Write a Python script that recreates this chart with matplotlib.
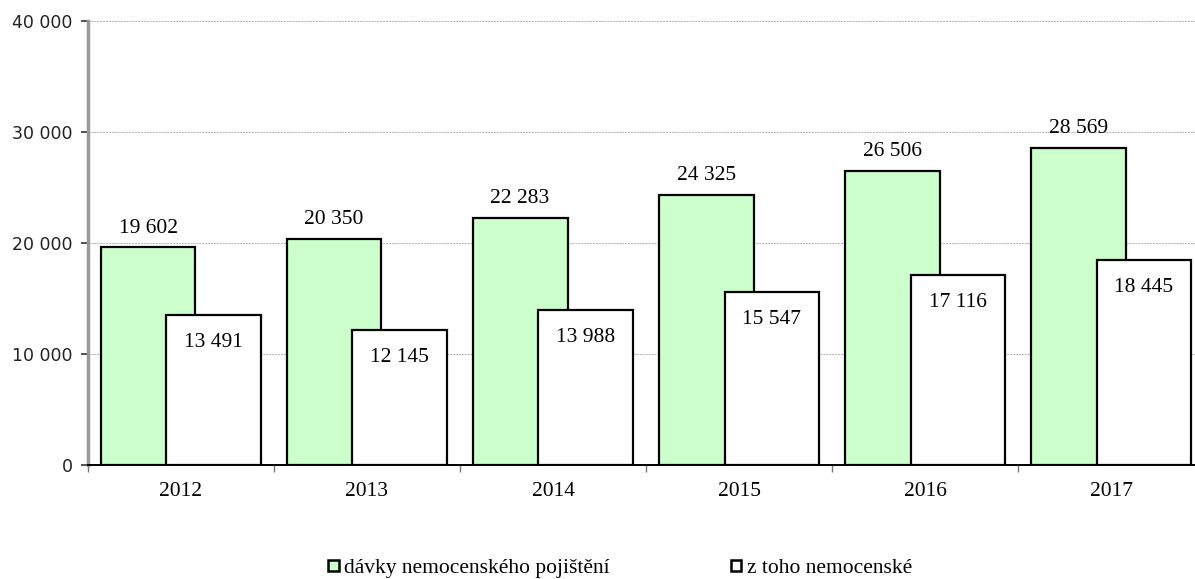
import matplotlib.pyplot as plt
from matplotlib.patches import Patch
import numpy as np

years = ['2012', '2013', '2014', '2015', '2016', '2017']
davky = [19602, 20350, 22283, 24325, 26506, 28569]
nemocenske = [13491, 12145, 13988, 15547, 17116, 18445]
series_names = ['dávky nemocenského pojištění', 'z toho nemocenské']

GREEN = '#ccffcc'
SERIF = 'Liberation Serif'


def fmt(v):
    return f'{v:,}'.replace(',', ' ')


fig = plt.figure(figsize=(11.95, 5.79), dpi=100)
ax = fig.add_axes([0.0736, 0.197, 0.934, 0.767])

x = np.arange(len(years))
width = 0.51
offset = 0.177

bars1 = ax.bar(x - offset, davky, width, color=GREEN, edgecolor='black',
               linewidth=1.6, zorder=2)
bars2 = ax.bar(x + offset, nemocenske, width, color='white', edgecolor='black',
               linewidth=1.6, zorder=3)

# value labels: above the green bars, inside the top of the white ones
for b, v in zip(bars1, davky):
    ax.annotate(fmt(v), (b.get_x() + b.get_width() / 2, v), xytext=(0, 7),
                textcoords='offset points', ha='center', va='bottom',
                fontsize=15.5, family=SERIF, zorder=4)
for b, v in zip(bars2, nemocenske):
    ax.annotate(fmt(v), (b.get_x() + b.get_width() / 2, v), xytext=(0, -13),
                textcoords='offset points', ha='center', va='top',
                fontsize=15.5, family=SERIF, zorder=4)

ax.set_xlim(-0.5, len(years) - 0.5)
ax.set_ylim(0, 40000)
ax.set_yticks(range(0, 40001, 10000))
ax.set_yticklabels([fmt(v) for v in range(0, 40001, 10000)], fontsize=12.5,
                   family='DejaVu Sans', color='#222222')
ax.set_xticks(x)
ax.set_xticklabels(years, fontsize=15.5, family=SERIF)
ax.set_xticks(np.arange(len(years) + 1) - 0.5, minor=True)
ax.tick_params(axis='x', which='major', length=0, pad=12.5)
ax.tick_params(axis='x', which='minor', length=5, color='#777777', width=1)
ax.tick_params(axis='y', length=5, color='#333333', width=1.2, pad=6)

ax.yaxis.grid(True, linestyle=(0, (2, 1)), color='#b0b0b0', linewidth=0.7, zorder=0)
ax.set_axisbelow(True)

for side in ('top', 'right'):
    ax.spines[side].set_visible(False)
ax.spines['left'].set_color('#999999')
ax.spines['left'].set_linewidth(2.5)
ax.spines['bottom'].set_color('black')
ax.spines['bottom'].set_linewidth(1.4)
ax.spines['bottom'].set_zorder(5)

handles = [Patch(facecolor=GREEN, edgecolor='black', linewidth=1.8),
           Patch(facecolor='white', edgecolor='black', linewidth=1.8)]
fig.legend(handles, series_names, loc='center', bbox_to_anchor=(0.519, 0.018),
           ncol=2, frameon=False, handlelength=0.5, handleheight=0.45,
           handletextpad=0.25, columnspacing=5.6, borderpad=0,
           prop={'family': SERIF, 'size': 15.5})

fig.savefig('out.png', dpi=100)
